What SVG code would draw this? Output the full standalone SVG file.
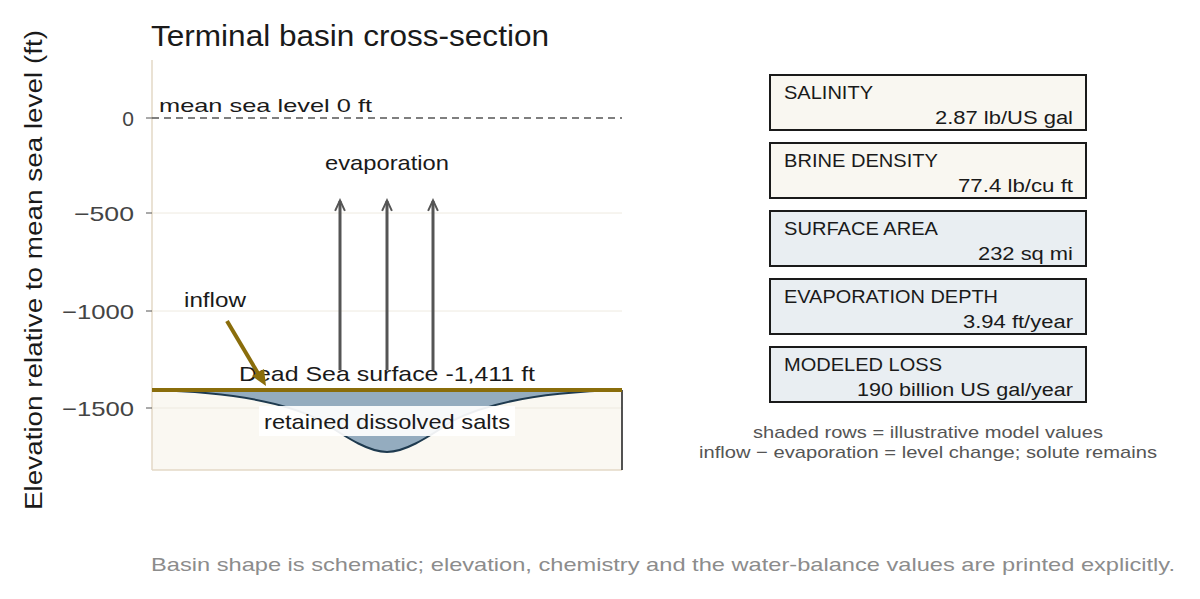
<svg xmlns="http://www.w3.org/2000/svg" width="1200" height="599" viewBox="0 0 1200 599">
<style>
text{font-family:"Liberation Sans",Arial,sans-serif;fill:#1a1a1a}
.tick{font-size:21px;fill:#444;text-anchor:end}
.lbl{font-size:21px}
.box{stroke:#1a1a1a;stroke-width:2}
.bt{font-size:18px}
.bv{font-size:18px;text-anchor:end}
.note{font-size:17px;fill:#555;text-anchor:middle}
.grid{stroke:#eeeae0;stroke-width:1}
</style>
<defs>
<marker id="ah" viewBox="0 0 10 10" refX="8" refY="5" markerWidth="14" markerHeight="14" orient="auto" markerUnits="userSpaceOnUse"><path d="M1,1.5 L8.5,5 L1,8.5" fill="none" stroke="#555" stroke-width="1.4"/></marker>
</defs>
<rect width="1200" height="599" fill="#fff"/>
<text x="151" y="46" font-size="29" textLength="398" lengthAdjust="spacingAndGlyphs">Terminal basin cross-section</text>
<text transform="translate(42,270) rotate(-90)" font-size="23" text-anchor="middle" textLength="480" lengthAdjust="spacingAndGlyphs">Elevation relative to mean sea level (ft)</text>
<g id="axes">
<line class="grid" x1="152" y1="213" x2="622" y2="213"/>
<line class="grid" x1="152" y1="311" x2="622" y2="311"/>
<rect x="152" y="390" width="470" height="80" fill="#faf8f2"/>
<line class="grid" x1="152" y1="408" x2="622" y2="408"/>
<line x1="152" y1="60" x2="152" y2="470" stroke="#e3d9c6" stroke-width="1.5"/>
<line x1="152" y1="470" x2="622" y2="470" stroke="#e3d9c6" stroke-width="1.5"/>
<line x1="622" y1="390" x2="622" y2="470" stroke="#1a1a1a" stroke-width="1.5"/>
<g stroke="#555"><line x1="146" y1="118" x2="152" y2="118"/><line x1="146" y1="213" x2="152" y2="213"/><line x1="146" y1="311" x2="152" y2="311"/><line x1="146" y1="408" x2="152" y2="408"/></g>
<text class="tick" x="134" y="126">0</text>
<text class="tick" x="134" y="221" textLength="60" lengthAdjust="spacingAndGlyphs">−500</text>
<text class="tick" x="134" y="319" textLength="72" lengthAdjust="spacingAndGlyphs">−1000</text>
<text class="tick" x="134" y="416" textLength="72" lengthAdjust="spacingAndGlyphs">−1500</text>
</g>
<g id="sealevel">
<line x1="152" y1="118" x2="622" y2="118" stroke="#555" stroke-width="1.6" stroke-dasharray="7,5"/>
<text x="159" y="112" font-size="19" textLength="213" lengthAdjust="spacingAndGlyphs">mean sea level 0 ft</text>
</g>
<g id="basin">
<path d="M152,390 C240,392 290,405 320,420 C350,440 370,452 387,452 C404,452 424,440 454,420 C484,405 534,392 622,390 Z" fill="#94acbf" stroke="#1e3a4f" stroke-width="2"/>
<rect x="259" y="406" width="256" height="30" fill="#fff" opacity="0.92"/>
<text class="lbl" x="387" y="429" text-anchor="middle" textLength="246" lengthAdjust="spacingAndGlyphs">retained dissolved salts</text>
<line x1="152" y1="390" x2="622" y2="390" stroke="#8a6d0b" stroke-width="4"/>
</g>
<text class="lbl" x="387" y="381" text-anchor="middle" textLength="296" lengthAdjust="spacingAndGlyphs">Dead Sea surface -1,411 ft</text>
<g id="connectors">
<line x1="340" y1="370" x2="340" y2="201" stroke="#555" stroke-width="3" marker-end="url(#ah)"/>
<line x1="387" y1="370" x2="387" y2="201" stroke="#555" stroke-width="3" marker-end="url(#ah)"/>
<line x1="433" y1="370" x2="433" y2="201" stroke="#555" stroke-width="3" marker-end="url(#ah)"/>
<line x1="227" y1="321" x2="259" y2="375" stroke="#8a6d0b" stroke-width="4"/>
<polygon points="266,386 264,369 252,376" fill="#8a6d0b"/>
</g>
<text class="lbl" x="387" y="170" text-anchor="middle" textLength="124" lengthAdjust="spacingAndGlyphs">evaporation</text>
<text class="lbl" x="184" y="307" textLength="62" lengthAdjust="spacingAndGlyphs">inflow</text>
<g id="salinity"><rect class="box" x="770" y="75" width="316" height="55" fill="#f9f7f1"/><text class="bt" x="784" y="99" textLength="89" lengthAdjust="spacingAndGlyphs">SALINITY</text><text class="bv" x="1073" y="124" textLength="138" lengthAdjust="spacingAndGlyphs">2.87 lb/US gal</text></g>
<g id="density"><rect class="box" x="770" y="143" width="316" height="55" fill="#f9f7f1"/><text class="bt" x="784" y="167" textLength="154" lengthAdjust="spacingAndGlyphs">BRINE DENSITY</text><text class="bv" x="1073" y="192" textLength="115" lengthAdjust="spacingAndGlyphs">77.4 lb/cu ft</text></g>
<g id="area"><rect class="box" x="770" y="211" width="316" height="55" fill="#e9eef2"/><text class="bt" x="784" y="235" textLength="154" lengthAdjust="spacingAndGlyphs">SURFACE AREA</text><text class="bv" x="1073" y="260" textLength="95" lengthAdjust="spacingAndGlyphs">232 sq mi</text></g>
<g id="evapdepth"><rect class="box" x="770" y="279" width="316" height="55" fill="#e9eef2"/><text class="bt" x="784" y="303" textLength="214" lengthAdjust="spacingAndGlyphs">EVAPORATION DEPTH</text><text class="bv" x="1073" y="328" textLength="110" lengthAdjust="spacingAndGlyphs">3.94 ft/year</text></g>
<g id="loss"><rect class="box" x="770" y="347" width="316" height="55" fill="#e9eef2"/><text class="bt" x="784" y="371" textLength="158" lengthAdjust="spacingAndGlyphs">MODELED LOSS</text><text class="bv" x="1073" y="396" textLength="216" lengthAdjust="spacingAndGlyphs">190 billion US gal/year</text></g>
<text class="note" x="928" y="438" textLength="350" lengthAdjust="spacingAndGlyphs">shaded rows = illustrative model values</text>
<text class="note" x="928" y="458" textLength="458" lengthAdjust="spacingAndGlyphs">inflow − evaporation = level change; solute remains</text>
<text x="151" y="571" font-size="19" style="fill:#8c8c8c" textLength="1024" lengthAdjust="spacingAndGlyphs">Basin shape is schematic; elevation, chemistry and the water-balance values are printed explicitly.</text>
</svg>
